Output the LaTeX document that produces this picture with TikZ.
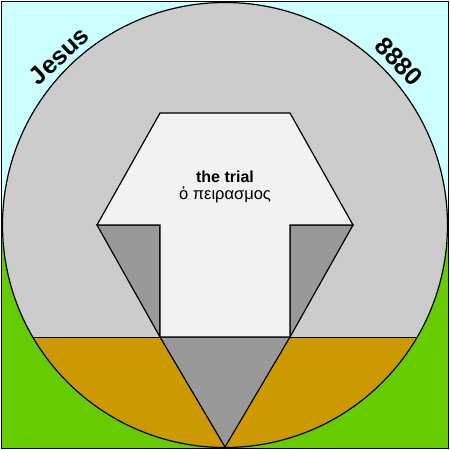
\documentclass[tikz,border=0pt]{standalone}
\usepackage{fontspec}
\setmainfont{Liberation Sans}
\usetikzlibrary{positioning}
\definecolor{sky}{HTML}{CCFFFF}
\definecolor{meadow}{HTML}{66CC00}
\definecolor{stone}{HTML}{CCCCCC}
\definecolor{shade}{HTML}{999999}
\definecolor{earth}{HTML}{CC9900}
\definecolor{paper}{HTML}{F2F2F2}
\tikzset
{
    edge/.style      = {draw=black, line width=1.2pt, line join=miter},
    facet/.style     = {edge, fill=shade},
    rimtext/.style   = {font=\fontsize{25}{28}\selectfont\bfseries, inner sep=0pt},
    titletext/.style = {font=\fontsize{16}{18}\selectfont\bfseries, inner sep=1pt},
    greektext/.style = {font=\fontsize{16.5}{18}\selectfont, inner sep=1pt}
}

\begin{document}
\begin{tikzpicture}[x=1pt,y=-1pt]
\useasboundingbox (0,0) rectangle (450,450);
% sky and grass
\fill[sky] (1.5,1.5) rectangle (448.5,242);
\fill[meadow] (1.5,242) rectangle (448.5,448.5);
\draw[line width=1.2pt] (1.5,1.5) rectangle (448.5,448.5);
% the disc with its lower band
\coordinate (c) at (225,225);
\coordinate (gl) at (32.7,337);
\coordinate (gr) at (417.3,337);
\fill[stone] (c) circle (222.5pt);
\begin{scope}
    \clip (c) circle (222.5pt);
    \fill[earth] (0,337) rectangle (450,450);
\end{scope}
\draw[edge] (c) circle (222.5pt);
\draw[edge, line width=0.8pt] (gl) -- (gr);
% arrow shape
\coordinate (tl) at (160,113);
\coordinate (tr) at (290,113);
\coordinate (l) at (97,225);
\coordinate (r) at (353,225);
\coordinate (il) at (160,225);
\coordinate (ir) at (290,225);
\coordinate (bl) at (160,337);
\coordinate (br) at (290,337);
\coordinate (apex) at (225,447);
\draw[facet] (bl) -- (br) -- (apex) -- cycle;
\draw[facet] (l) -- (il) -- (bl) -- cycle;
\draw[facet] (ir) -- (r) -- (br) -- cycle;
\draw[edge, fill=paper] (tl) -- (tr) -- (r) -- (ir) -- (br) -- (bl) -- (il) -- (l) -- cycle;
% texts
\node[titletext] (trial) at (225,177) {the trial};
\node[greektext, below=1pt of trial] (greek) {ὁ πειρασμος};
\node[rimtext, rotate=43] (name) at (59,56) {Jesus};
\node[rimtext, rotate=-46] (number) at (399,62) {8880};
\end{tikzpicture}
\end{document}
